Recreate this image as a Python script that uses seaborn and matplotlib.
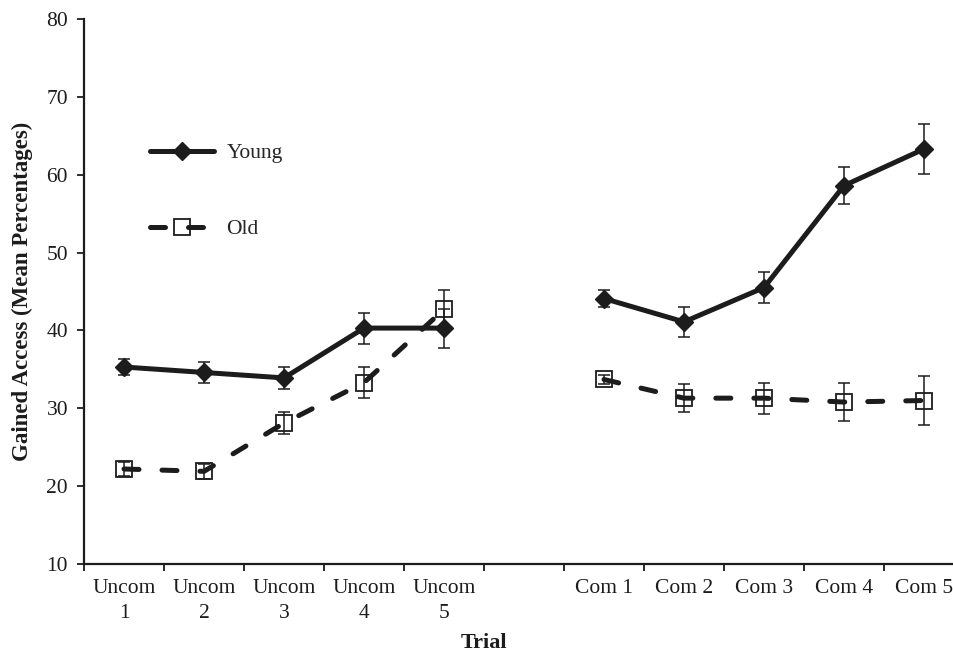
import numpy as np
import pandas as pd
import matplotlib
matplotlib.use("Agg")
import matplotlib.pyplot as plt
from matplotlib.lines import Line2D
import seaborn as sns

# Trial labels (the empty slot separates the two blocks)
uncom_labels = ["Uncom\n1", "Uncom\n2", "Uncom\n3", "Uncom\n4", "Uncom\n5"]
com_labels = ["Com 1", "Com 2", "Com 3", "Com 4", "Com 5"]

# Mean percentages and error bar half-widths
young_uncom = [35.3, 34.6, 33.9, 40.3, 40.3]
young_uncom_err = [1.0, 1.3, 1.4, 2.0, 2.5]
old_uncom = [22.2, 21.9, 28.1, 33.3, 42.7]
old_uncom_err = [0.9, 1.0, 1.4, 2.0, 2.5]
young_com = [44.1, 41.1, 45.5, 58.6, 63.3]
young_com_err = [1.1, 1.9, 2.0, 2.4, 3.2]
old_com = [33.7, 31.3, 31.3, 30.8, 31.0]
old_com_err = [0.6, 1.8, 2.0, 2.4, 3.2]

y_ticks = [10, 20, 30, 40, 50, 60, 70, 80]

sns.set_style("ticks")
plt.rcParams["font.family"] = ["Liberation Serif", "DejaVu Serif"]

ink = "#1c1c1c"
uncom_pos = np.arange(5)
com_pos = np.arange(6, 11)

rows = []
for grp, vals, errs, pos, blk in [
    ("Young", young_uncom, young_uncom_err, uncom_pos, "Uncom"),
    ("Young", young_com, young_com_err, com_pos, "Com"),
    ("Old", old_uncom, old_uncom_err, uncom_pos, "Uncom"),
    ("Old", old_com, old_com_err, com_pos, "Com"),
]:
    for p, v, e in zip(pos, vals, errs):
        rows.append({"group": grp, "block": blk, "pos": p, "value": v, "err": e})
df = pd.DataFrame(rows)

fig = plt.figure(figsize=(9.54, 6.52), dpi=100)
ax = fig.add_axes([84 / 954, 1 - 564 / 652, 880 / 954, 545 / 652])

line_w = 3.6
styles = {
    "Young": dict(marker="D", markersize=9.5, markerfacecolor=ink,
                  markeredgecolor=ink, markeredgewidth=1.0,
                  linestyle="-", solid_capstyle="round"),
    "Old": dict(marker="s", markersize=12, markerfacecolor="none",
                markeredgecolor=ink, markeredgewidth=1.3,
                linestyle=(0, (3.0, 4.6)), dash_capstyle="round"),
}

for grp in ["Young", "Old"]:
    for blk in ["Uncom", "Com"]:
        sub = df[(df.group == grp) & (df.block == blk)]
        ax.errorbar(sub.pos, sub.value, yerr=sub.err, fmt="none",
                    ecolor=ink, elinewidth=1.1, capsize=4.3, capthick=1.1,
                    zorder=2)
        sns.lineplot(data=sub, x="pos", y="value", ax=ax, color=ink,
                     linewidth=line_w, errorbar=None, legend=False, zorder=3,
                     **styles[grp])

ax.set_xlim(-0.5, 10.5)
ax.set_ylim(10, 80)
ax.set_yticks(y_ticks)
ax.set_yticklabels([str(t) for t in y_ticks])

ax.set_xticks(list(uncom_pos) + list(com_pos))
ax.set_xticklabels(uncom_labels + com_labels, linespacing=1.42)
ax.set_xticks(np.arange(-0.5, 10.0, 1.0), minor=True)
ax.tick_params(axis="x", which="major", length=0, pad=11, labelsize=15.5,
               colors=ink)
ax.tick_params(axis="x", which="minor", length=5, width=1.3, color=ink,
               direction="out")
ax.tick_params(axis="y", length=5, width=1.3, pad=6.5, labelsize=15.5,
               colors=ink)

for side in ["top", "right"]:
    ax.spines[side].set_visible(False)
for side in ["left", "bottom"]:
    ax.spines[side].set_linewidth(1.6)
    ax.spines[side].set_color(ink)

ax.set_ylabel("Gained Access (Mean Percentages)", fontsize=16.5,
              fontweight="bold", color=ink)
ax.yaxis.set_label_coords(-0.058, 0.5)
ax.set_xlabel("Trial", fontsize=16, fontweight="bold", color=ink)
ax.xaxis.set_label_coords((484 - 84) / 880, -(633 - 564) / 545)

handles = [
    Line2D([], [], color=ink, linewidth=line_w, solid_capstyle="round",
           **{k: v for k, v in styles["Young"].items()
              if k not in ("linestyle", "solid_capstyle")}),
    Line2D([], [], color=ink, linewidth=line_w,
           **{k: v for k, v in styles["Old"].items()}),
]
ax.legend(handles, ["Young", "Old"], loc="upper left",
          bbox_to_anchor=((150 - 84) / 880, (564 - 143) / 545),
          frameon=False, fontsize=15.5, handlelength=2.95,
          handletextpad=0.6, labelspacing=2.6, borderpad=0,
          borderaxespad=0, numpoints=1)

fig.savefig("out.png", dpi=100)
